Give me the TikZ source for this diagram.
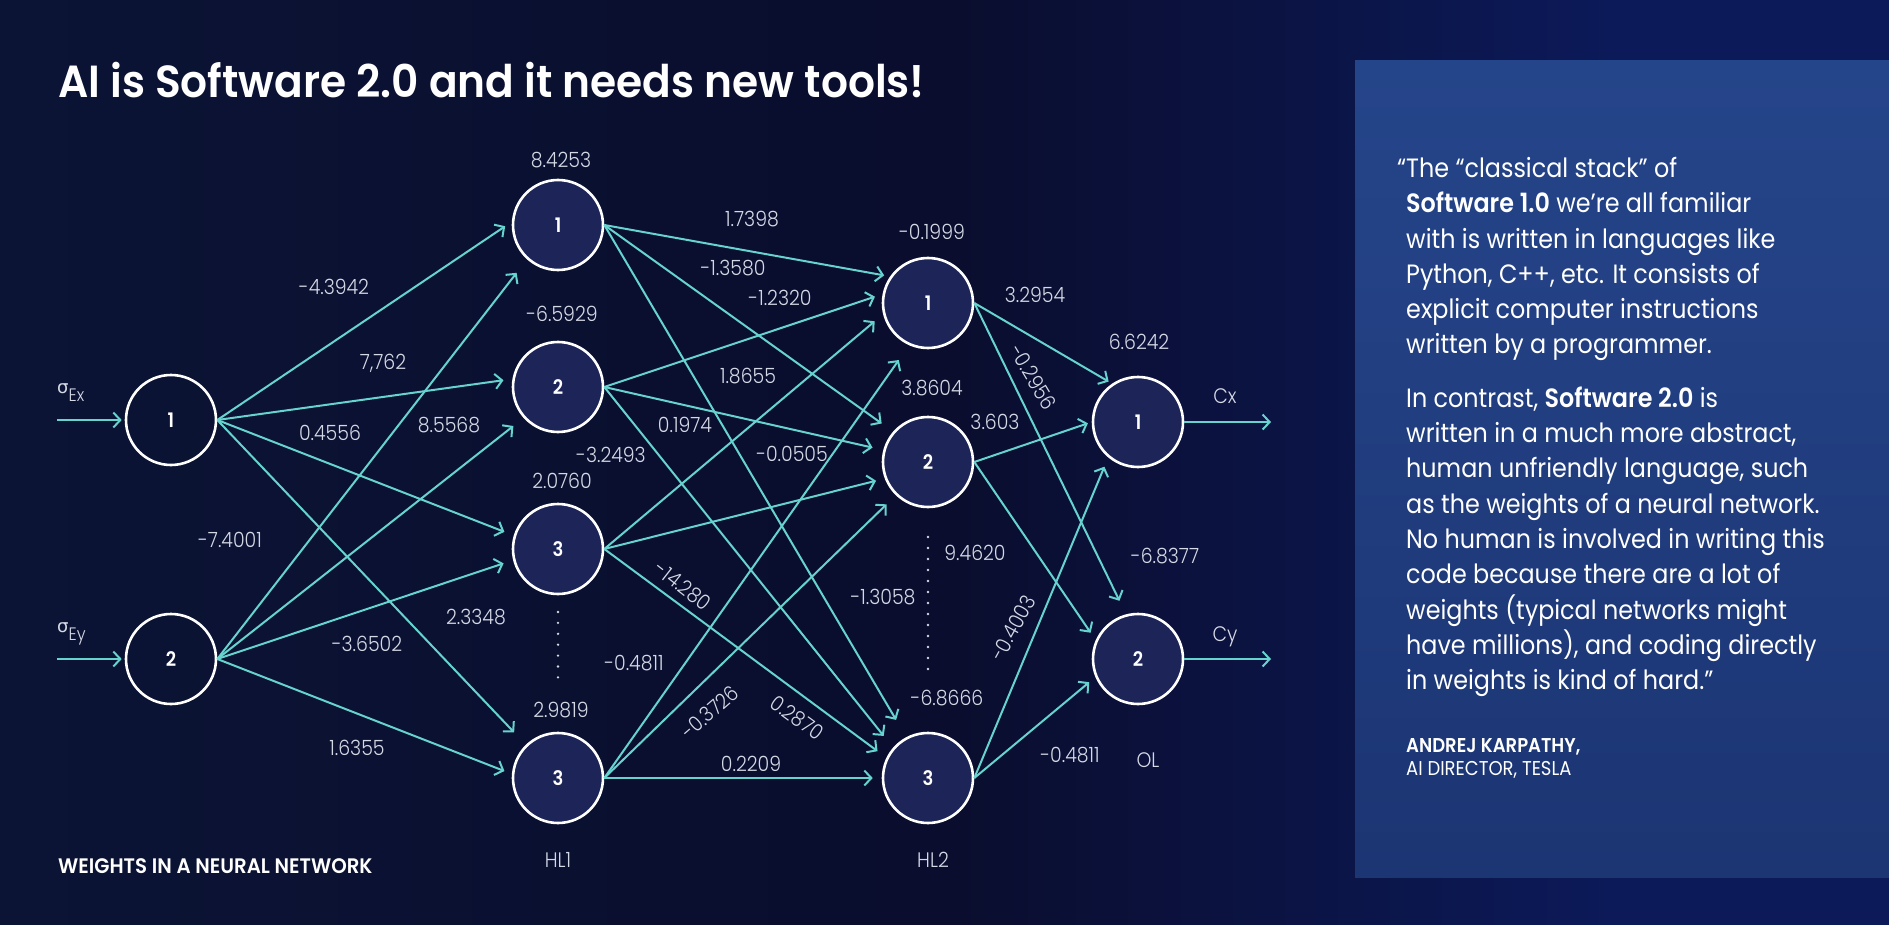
\documentclass[tikz,border=0pt]{standalone}
\usepackage{fontspec}
\setmainfont{Poppins}[FakeStretch=0.9]
\newfontfamily\lightfont{Poppins Light}[FakeStretch=0.9]
\newfontfamily\semifont{Poppins SemiBold}[FakeStretch=0.9]
\newfontfamily\titlefont{Poppins SemiBold}[FakeStretch=0.94]
\newfontfamily\greekfont{DejaVu Sans}
\usetikzlibrary{arrows.meta}

\definecolor{wirecol}{HTML}{66D3CF}
\definecolor{nodefill}{HTML}{1C2458}
\definecolor{labelcol}{HTML}{D5D9E6}
\definecolor{bgA}{HTML}{0D1D6A}
\definecolor{bgB}{HTML}{0B1435}
\definecolor{bgC}{HTML}{0A0D2D}
\definecolor{bgD}{HTML}{0C1A5A}
\definecolor{panelTop}{HTML}{25458A}
\definecolor{panelBot}{HTML}{1C3573}
\pgfdeclarehorizontalshading{bgshade}{100bp}{color(0bp)=(bgA); color(25bp)=(bgB); color(50bp)=(bgC); color(68bp)=(bgD); color(100bp)=(bgD)}

\tikzset{
  neuron/.style={circle, draw=white, line width=2.6pt, minimum size=90pt, inner sep=0pt,
    text=white, font=\semifont\fontsize{20}{22}\selectfont},
  hidden/.style={neuron, fill=nodefill},
  wire/.style={draw=wirecol, line width=2pt, -{Straight Barb[length=7pt, width=15pt]}},
  weight/.style={text=labelcol, inner sep=0pt, font=\lightfont\fontsize{21}{25}\selectfont},
  quote/.style={text=white, inner sep=0pt, align=left, font=\fontsize{26.5}{35.3}\selectfont},
}

\begin{document}
\begin{tikzpicture}[x=1pt, y=-1pt]
  \useasboundingbox (0,0) rectangle (1889,925);
  % --- background and quote panel ---
  \fill[shading=bgshade] (0,0) rectangle (1889,925);
  \fill[top color=panelTop, bottom color=panelBot] (1355,61) rectangle (1889,877);

  % --- neurons ---
  \node[neuron] (in1) at (171,420) {1};
  \node[neuron] (in2) at (171,659) {2};
  \node[hidden] (h11) at (558,225) {1};
  \node[hidden] (h12) at (558,387) {2};
  \node[hidden] (h13) at (558,549) {3};
  \node[hidden] (h14) at (558,778) {3};
  \node[hidden] (h21) at (928,303) {1};
  \node[hidden] (h22) at (928,462) {2};
  \node[hidden] (h23) at (928,778) {3};
  \node[hidden] (o1) at (1138,422) {1};
  \node[hidden] (o2) at (1138,659) {2};

  % --- inputs and outputs ---
  \coordinate (ex) at (57,420);
  \coordinate (ey) at (57,659);
  \coordinate (cx) at (1271,422);
  \coordinate (cy) at (1271,659);
  \draw[wire, shorten >=3pt] (ex) -- (in1.west);
  \draw[wire, shorten >=3pt] (ey) -- (in2.west);
  \draw[wire] (o1.east) -- (cx);
  \draw[wire] (o2.east) -- (cy);

  % --- input -> HL1 ---
  \draw[wire, shorten >=8pt]  (in1.east) -- (h11.176);
  \draw[wire, shorten >=17pt] (in2.east) -- (h11.228);
  \draw[wire, shorten >=9pt]  (in1.east) -- (h12.170);
  \draw[wire, shorten >=13pt] (in2.east) -- (h12.222);
  \draw[wire, shorten >=10pt] (in1.east) -- (h13.163);
  \draw[wire, shorten >=10pt] (in2.east) -- (h13.194);
  \draw[wire, shorten >=17pt] (in1.east) -- (h14.134);
  \draw[wire, shorten >=8pt]  (in2.east) -- (h14.175);

  % --- HL1 -> HL2 ---
  \draw[wire, shorten >=6pt]  (h11.east) -- (h21.145);
  \draw[wire, shorten >=8pt]  (h12.east) -- (h21.169);
  \draw[wire, shorten >=11pt] (h13.east) -- (h21.194);
  \draw[wire, shorten >=18pt] (h14.east) -- (h21.246);
  \draw[wire, shorten >=14pt] (h11.east) -- (h22.139);
  \draw[wire, shorten >=11pt] (h12.east) -- (h22.165);
  \draw[wire, shorten >=9pt]  (h13.east) -- (h22.201);
  \draw[wire, shorten >=13pt] (h14.east) -- (h22.226);
  \draw[wire, shorten >=20pt] (h11.east) -- (h23.118);
  \draw[wire, shorten >=15pt] (h12.east) -- (h23.139);
  \draw[wire, shorten >=11pt] (h13.east) -- (h23.154);
  \draw[wire, shorten >=9pt]  (h14.east) -- (h23.180);

  % --- HL2 -> OL ---
  \draw[wire, shorten >=4pt]  (h21.east) -- (o1.124);
  \draw[wire, shorten >=4pt]  (h22.east) -- (o1.180);
  \draw[wire, shorten >=10pt] (h23.east) -- (o1.230);
  \draw[wire, shorten >=15pt] (h21.east) -- (o2.105);
  \draw[wire, shorten >=9pt]  (h22.east) -- (o2.156);
  \draw[wire, shorten >=8pt]  (h23.east) -- (o2.203);

  % --- omitted neurons ---
  \draw[labelcol, line width=2.6pt, line cap=round, dash pattern=on 0pt off 10.9pt] (558,612) -- (558,688);
  \draw[labelcol, line width=2.6pt, line cap=round, dash pattern=on 0pt off 11pt] (928,537) -- (928,670);

  % --- weights input -> HL1 ---
  \node[weight] (w1) at (334,287) {-4.3942};
  \node[weight] (w2) at (383,363) {7,762};
  \node[weight] (w3) at (330,433) {0.4556};
  \node[weight] (w4) at (449,425) {8.5568};
  \node[weight] (w5) at (230,540) {-7.4001};
  \node[weight] (w6) at (476,617) {2.3348};
  \node[weight] (w7) at (367,644) {-3.6502};
  \node[weight] (w8) at (357,748) {1.6355};

  % --- weights HL1 -> HL2 ---
  \node[weight] (w9) at (752,219) {1.7398};
  \node[weight] (w10) at (733,268) {-1.3580};
  \node[weight] (w11) at (780,298) {-1.2320};
  \node[weight] (w12) at (748,376) {1.8655};
  \node[weight] (w13) at (685,425) {0.1974};
  \node[weight] (w14) at (611,455) {-3.2493};
  \node[weight] (w15) at (792,454) {-0.0505};
  \node[weight, rotate=-38] (w16) at (683,586) {-14.280};
  \node[weight] (w17) at (883,597) {-1.3058};
  \node[weight] (w18) at (634,663) {-0.4811};
  \node[weight, rotate=41] (w19) at (710,712) {-0.3726};
  \node[weight, rotate=-36] (w20) at (797,718) {0.2870};
  \node[weight] (w21) at (751,764) {0.2209};

  % --- weights HL2 -> OL ---
  \node[weight] (w22) at (1035,295) {3.2954};
  \node[weight, rotate=-59] (w23) at (1033,377) {-0.2956};
  \node[weight] (w24) at (995,422) {3.603};
  \node[weight] (w25) at (975,553) {9.4620};
  \node[weight, rotate=61] (w26) at (1013,628) {-0.4003};
  \node[weight] (w27) at (1070,755) {-0.4811};

  % --- biases ---
  \node[weight] (b11) at (561,160) {8.4253};
  \node[weight] (b12) at (562,314) {-6.5929};
  \node[weight] (b13) at (562,481) {2.0760};
  \node[weight] (b14) at (561,710) {2.9819};
  \node[weight] (b21) at (932,232) {-0.1999};
  \node[weight] (b22) at (932,388) {3.8604};
  \node[weight] (b23) at (947,698) {-6.8666};
  \node[weight] (b31) at (1139,342) {6.6242};
  \node[weight] (b32) at (1165,556) {-6.8377};

  % --- layer and signal labels ---
  \node[weight] (lh1) at (558,860) {HL1};
  \node[weight] (lh2) at (933,860) {HL2};
  \node[weight] (lol) at (1148,760) {OL};
  \node[weight] (lcx) at (1225,396) {Cx};
  \node[weight] (lcy) at (1225,637) {Cy};
  \node[weight, anchor=base west, font=\lightfont\fontsize{18}{20}\selectfont] (lex) at (57,393)
    {{\greekfont σ}\raisebox{-8pt}{Ex}};
  \node[weight, anchor=base west, font=\lightfont\fontsize{18}{20}\selectfont] (ley) at (57,632)
    {{\greekfont σ}\raisebox{-8pt}{Ey}};

  % --- titles ---
  \node[text=white, inner sep=0pt, anchor=base west, font=\titlefont\fontsize{45}{50}\selectfont] (title) at (58,98)
    {AI is Software 2.0 and it needs new tools!};
  \node[text=white, inner sep=0pt, anchor=base west, font=\titlefont\fontsize{21}{24}\selectfont] (caption) at (58,873)
    {WEIGHTS IN A NEURAL NETWORK};

  % --- quote ---
  \node[quote, anchor=north west] (quotetext) at (1406,157)
    {\llap{“}The “classical stack” of\\
     {\semifont Software 1.0} we’re all familiar\\
     with is written in languages like\\
     Python, C++, etc. It consists of\\
     explicit computer instructions\\
     written by a programmer.\\[18pt]
     In contrast, {\semifont Software 2.0} is\\
     written in a much more abstract,\\
     human unfriendly language, such\\
     as the weights of a neural network.\\
     No human is involved in writing this\\
     code because there are a lot of\\
     weights (typical networks might\\
     have millions), and coding directly\\
     in weights is kind of hard.”};
  \node[text=white, inner sep=0pt, anchor=base west, font=\semifont\fontsize{20}{22}\selectfont] (author) at (1406,752)
    {ANDREJ KARPATHY,};
  \node[text=white, inner sep=0pt, anchor=base west, font=\fontsize{20}{22}\selectfont] (role) at (1406,775)
    {AI DIRECTOR, TESLA};
\end{tikzpicture}
\end{document}
